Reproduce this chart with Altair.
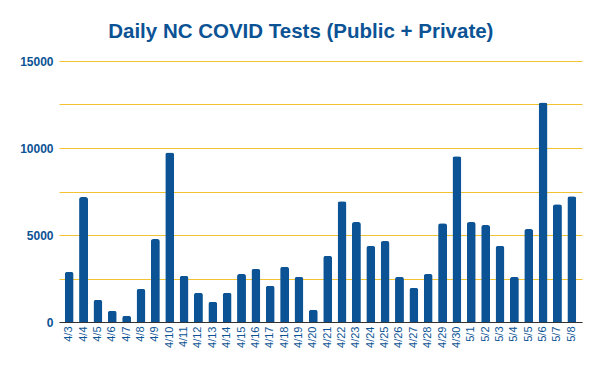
import altair as alt
import pandas as pd

dates = ["4/3", "4/4", "4/5", "4/6", "4/7", "4/8", "4/9", "4/10", "4/11", "4/12",
         "4/13", "4/14", "4/15", "4/16", "4/17", "4/18", "4/19", "4/20", "4/21", "4/22",
         "4/23", "4/24", "4/25", "4/26", "4/27", "4/28", "4/29", "4/30", "5/1", "5/2",
         "5/3", "5/4", "5/5", "5/6", "5/7", "5/8"]
tests = [2880, 7180, 1270, 650, 360, 1900, 4770, 9740, 2650, 1680,
         1160, 1680, 2760, 3050, 2080, 3170, 2590, 700, 3800, 6940,
         5740, 4370, 4650, 2590, 1960, 2760, 5680, 9520, 5740, 5570,
         4370, 2590, 5340, 12610, 6770, 7230]
y_ticks = [0, 2500, 5000, 7500, 10000, 12500, 15000]

df = pd.DataFrame({"date": dates, "tests": tests})

BLUE = "#0b5394"
FONT = "Liberation Sans"

chart = alt.Chart(df).mark_bar(
    color=BLUE, cornerRadiusTopLeft=2.5, cornerRadiusTopRight=2.5
).encode(
    x=alt.X("date:N", sort=dates, title=None,
            scale=alt.Scale(paddingInner=0.38, paddingOuter=0.4),
            axis=alt.Axis(labelAngle=270, labelAlign="right", labelBaseline="middle",
                          labelPadding=4, ticks=False, domainColor="#333333",
                          labelColor=BLUE, labelFont=FONT, labelFontSize=11,
                          labelOverlap=False, labelBound=False)),
    y=alt.Y("tests:Q", title=None,
            scale=alt.Scale(domain=[0, 15000], nice=False),
            axis=alt.Axis(values=y_ticks, domain=False, ticks=False,
                          gridColor="#f1c232", gridOpacity=1,
                          labelExpr="datum.value % 5000 == 0 ? datum.value : ''",
                          labelColor=BLUE, labelFont=FONT, labelFontSize=12,
                          labelFontWeight="bold", labelPadding=6)),
).properties(
    width=523, height=261,
    padding={"left": 51, "top": 53, "right": 10, "bottom": 45},
    autosize=alt.AutoSizeParams(type="none"),
    title=alt.TitleParams("Daily NC COVID Tests (Public + Private)", anchor="middle",
                          frame="bounds", font=FONT, fontSize=20.5,
                          fontWeight="bold", color=BLUE, offset=13),
).configure_view(stroke=None)

chart.save("out.html", embed_options={"renderer": "svg", "actions": False})
